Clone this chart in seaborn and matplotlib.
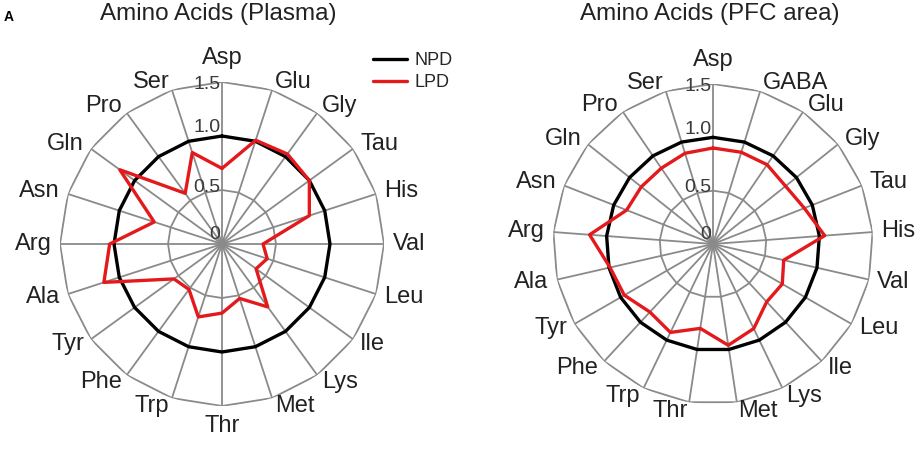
import numpy as np
import pandas as pd
import matplotlib
matplotlib.use("Agg")
import matplotlib.pyplot as plt
import seaborn as sns

sns.set_style("white")
plt.rcParams['font.family'] = ['Liberation Sans', 'DejaVu Sans']

# Plasma panel
plasma_acids = ["Asp", "Glu", "Gly", "Tau", "His", "Val", "Leu", "Ile", "Lys", "Met",
                "Thr", "Trp", "Phe", "Tyr", "Ala", "Arg", "Asn", "Gln", "Pro", "Ser"]
plasma_npd = [1.0, 1.0, 1.0, 1.0, 1.0, 1.0, 1.0, 1.0, 1.0, 1.0,
              1.0, 1.0, 1.0, 1.0, 1.0, 1.0, 1.0, 1.0, 1.0, 1.0]
plasma_lpd = [0.70, 1.01, 1.03, 1.00, 0.85, 0.38, 0.44, 0.39, 0.72, 0.53,
              0.64, 0.71, 0.52, 0.55, 1.15, 1.04, 0.66, 1.17, 0.58, 0.89]

# PFC panel
pfc_acids = ["Asp", "GABA", "Glu", "Gly", "Tau", "His", "Val", "Leu", "Ile", "Lys", "Met",
             "Thr", "Trp", "Phe", "Tyr", "Ala", "Arg", "Asn", "Gln", "Pro", "Ser"]
pfc_npd = [1.0, 1.0, 1.0, 1.0, 1.0, 1.0, 1.0, 1.0, 1.0, 1.0, 1.0,
           1.0, 1.0, 1.0, 1.0, 1.0, 1.0, 1.0, 1.0, 1.0, 1.0]
pfc_lpd = [0.90, 0.90, 0.90, 0.87, 0.92, 1.05, 0.68, 0.75, 0.74, 0.88, 0.96,
           0.80, 0.92, 0.87, 0.96, 0.99, 1.16, 0.87, 0.86, 0.86, 0.89]

ring_values = [0.5, 1.0, 1.5]
tick_values = [0, 0.5, 1.0, 1.5]
tick_labels = ["0", "0.5", "1.0", "1.5"]
tick_nudge = [6.5, 2, 6, -2]   # vertical offsets (pt) of the radial labels

GRID = "#8a8a8a"
RED = "#e3191c"


def draw_radar(ax, acids, npd, lpd):
    n = len(acids)
    theta = np.linspace(0, 2 * np.pi, n, endpoint=False)
    closed = np.append(theta, 2 * np.pi)

    ax.set_theta_zero_location("N")
    ax.set_theta_direction(-1)
    ax.set_ylim(0, 1.5)
    ax.grid(False)
    ax.spines["polar"].set_visible(False)
    ax.set_xticks([])
    ax.set_yticks([])
    ax.set_facecolor("none")

    # polygon rings + spokes
    for r in ring_values:
        ax.plot(closed, [r] * (n + 1), color=GRID, lw=1.3, zorder=1)
    for t in theta:
        ax.plot([t, t], [0, 1.5], color=GRID, lw=1.3, zorder=1)

    df = pd.DataFrame({"theta": closed,
                       "NPD": list(npd) + [npd[0]],
                       "LPD": list(lpd) + [lpd[0]]})
    sns.lineplot(data=df, x="theta", y="NPD", sort=False, estimator=None, color="black",
                 lw=2.4, ax=ax, label="NPD", zorder=3)
    sns.lineplot(data=df, x="theta", y="LPD", sort=False, estimator=None, color=RED,
                 lw=2.4, ax=ax, label="LPD", zorder=4)
    ax.set_xlabel("")
    ax.set_ylabel("")
    ax.set_ylim(0, 1.5)

    # radial tick labels along the top spoke
    for v, lab, dy in zip(tick_values, tick_labels, tick_nudge):
        ax.annotate(lab, xy=(0, v), xytext=(-1, dy), textcoords="offset points",
                    ha="right", va="center", fontsize=14, color="#3a3a3a", zorder=5)

    # category labels
    for t, name in zip(theta, acids):
        s, c = np.sin(t), np.cos(t)
        if s > 0.05:
            ha = "left"
        elif s < -0.05:
            ha = "right"
        else:
            ha = "center"
        if abs(s) <= 0.05:
            va = "bottom" if c > 0 else "top"
        else:
            va = "center"
        rr = 1.62 if va == "bottom" else 1.58
        ax.text(t, rr, name, ha=ha, va=va, fontsize=17, color="#222222")


fig = plt.figure(figsize=(9.16, 4.66), dpi=100)
W, H = 916, 466

ax1 = fig.add_axes([(222 - 162) / W, (H - 244 - 162) / H, 324 / W, 324 / H], projection="polar")
ax2 = fig.add_axes([(713 - 160) / W, (H - 244 - 160) / H, 320 / W, 320 / H], projection="polar")

draw_radar(ax1, plasma_acids, plasma_npd, plasma_lpd)
draw_radar(ax2, pfc_acids, pfc_npd, pfc_lpd)

handles, labels = ax1.get_legend_handles_labels()
for ax in (ax1, ax2):
    if ax.get_legend() is not None:
        ax.get_legend().remove()
fig.legend(handles, labels, loc="upper left", bbox_to_anchor=(373 / W, 1 - 52 / H),
           frameon=False, fontsize=13, handlelength=1.9, handletextpad=0.4,
           borderpad=0, borderaxespad=0, labelspacing=0.3)

fig.text(218 / W, 1 - 14 / H, "Amino Acids (Plasma)", ha="center", va="center",
         fontsize=17.5, color="#222222")
fig.text(710 / W, 1 - 14 / H, "Amino Acids (PFC area)", ha="center", va="center",
         fontsize=17.5, color="#222222")
fig.text(4 / W, 1 - 17 / H, "A", ha="left", va="center", fontsize=10,
         fontweight="bold", color="black")

fig.savefig("out.png", dpi=100)
